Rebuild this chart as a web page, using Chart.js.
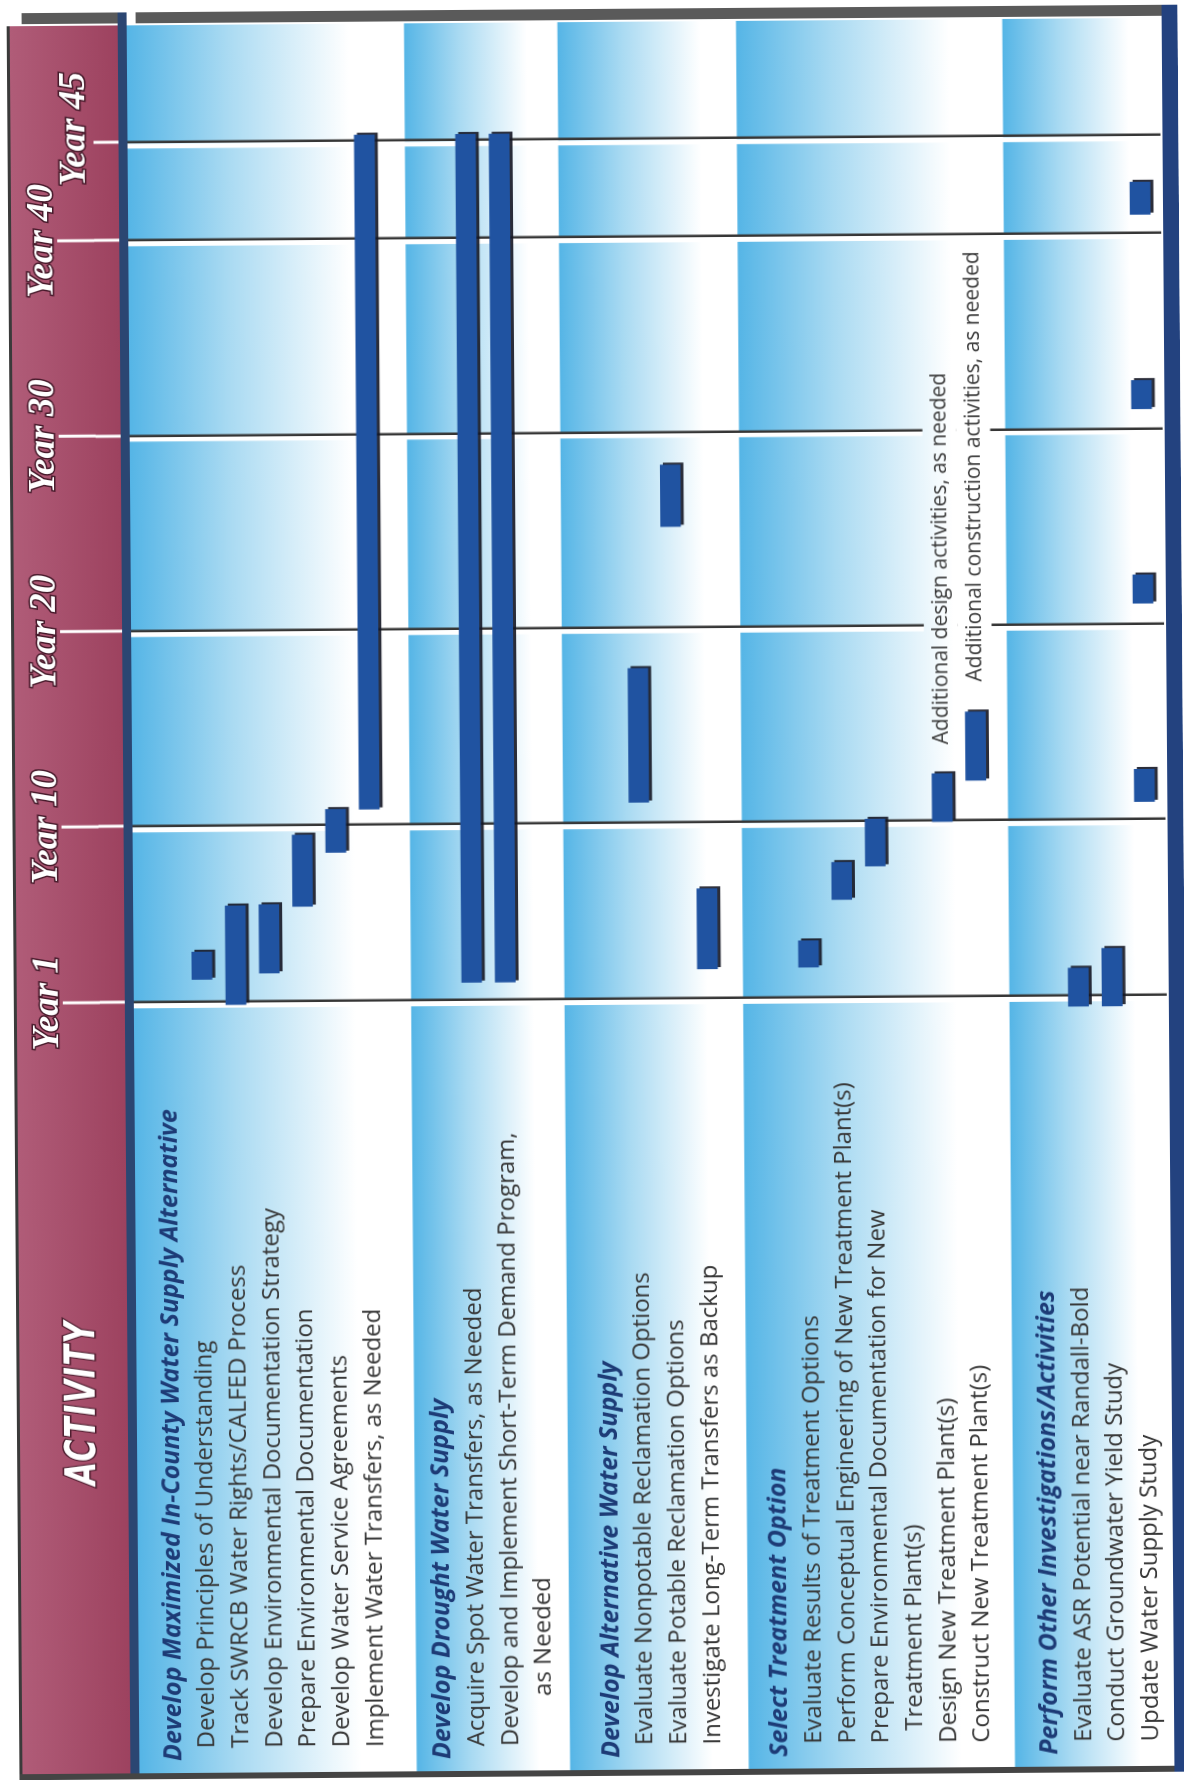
<!DOCTYPE html>
<html>
<head>
<meta charset="utf-8">
<title>Implementation schedule</title>
<script src="https://cdn.jsdelivr.net/npm/chart.js@4.4.1/dist/chart.umd.min.js"></script>
<style>
    html, body { margin: 0; padding: 0; background: #fff; }
    body { width: 1184px; height: 1780px; overflow: hidden; position: relative; }
    /* the chart is laid out on its side and turned upright, like the printed page */
    #schedule-target {
        position: absolute;
        left: -298px;
        top: 298px;
        width: 1780px;
        height: 1184px;
        transform: rotate(-90.42deg);
        transform-origin: 50% 50%;
    }
</style>
</head>
<body>
<canvas id="schedule-target" width="1780" height="1184"></canvas>
<script>
const rowLabels = [
    'Develop Maximized In-County Water Supply Alternative',
    'Develop Principles of Understanding',
    'Track SWRCB Water Rights/CALFED Process',
    'Develop Environmental Documentation Strategy',
    'Prepare Environmental Documentation',
    'Develop Water Service Agreements',
    'Implement Water Transfers, as Needed',
    '',
    'Develop Drought Water Supply',
    'Acquire Spot Water Transfers, as Needed',
    'Develop and Implement Short-Term Demand Program,',
    'as Needed',
    '',
    'Develop Alternative Water Supply',
    'Evaluate Nonpotable Reclamation Options',
    'Evaluate Potable Reclamation Options',
    'Investigate Long-Term Transfers as Backup',
    '',
    'Select Treatment Option',
    'Evaluate Results of Treatment Options',
    'Perform Conceptual Engineering of New Treatment Plant(s)',
    'Prepare Environmental Documentation for New',
    'Treatment Plant(s)',
    'Design New Treatment Plant(s)',
    'Construct New Treatment Plant(s)',
    '',
    'Perform Other Investigations/Activities',
    'Evaluate ASR Potential near Randall-Bold',
    'Conduct Groundwater Yield Study',
    'Update Water Supply Study',
]
const headerRows = [0, 8, 13, 18, 26]
const yearTicks = [1, 10, 20, 30, 40, 45]

// one entry per bar (years)
const barRows  = [1, 2, 3, 4, 5, 6, 9, 10, 14, 15, 16, 19, 20, 21, 23, 24, 27, 28, 29, 29, 29, 29]
const barStart = [2.15, 0.85, 2.45, 5.85, 8.6, 10.8, 1.9, 1.9, 11.05, 25.15, 2.5, 2.55, 6.0, 7.7, 9.95, 12.05, 0.45, 0.45, 10.9, 21.05, 31.0, 40.95]
const barEnd   = [3.55, 5.9, 5.95, 9.5, 10.8, 45.3, 45.3, 45.3, 17.9, 28.3, 6.6, 3.9, 7.9, 10.1, 12.4, 15.55, 2.4, 3.4, 12.55, 22.5, 32.45, 42.6]

const noteRows = [23, 24]
const noteFrom = [13.9, 17.1]
const noteText = ['Additional design activities, as needed', 'Additional construction activities, as needed']

// look
const bandEdges = [7.2, 11.75, 17.05, 24.95]
const wrapIndent = { 11: 50, 22: 13 }
const labelFont = '"Open Sans"'

const measure = document.createElement('canvas').getContext('2d')
measure.font = '24px ' + labelFont
const spaceW = measure.measureText(' ').width
function pad(px) {
    return ' '.repeat(Math.max(0, Math.round(px / spaceW)))
}
function isHead(c) {
    return !!c.tick && headerRows.includes(c.tick.value)
}

function paintBands(ctx, chart) {
    const a = chart.chartArea
    const y = chart.scales.y
    const edges = [a.top].concat(bandEdges.map(e => y.getPixelForValue(e)), [a.bottom])
    for (let i = 0; i < edges.length - 1; i++) {
        const v0 = edges[i], v1 = edges[i + 1]
        const g = ctx.createLinearGradient(0, v0, 0, v0 + (v1 - v0) * 0.8)
        g.addColorStop(0, '#55b5e6')
        g.addColorStop(0.45, '#a9daf2')
        g.addColorStop(1, '#ffffff')
        ctx.fillStyle = g
        ctx.fillRect(10, v0, a.right - 10, v1 - v0)
    }
}

const frame = {
    id: 'frame',
    beforeDraw(chart) {
        const { ctx, chartArea: a, scales: { x } } = chart
        ctx.save()
        ctx.fillStyle = '#fff'
        ctx.fillRect(0, 0, chart.width, chart.height)
        paintBands(ctx, chart)

        // maroon header column
        const mg = ctx.createLinearGradient(0, 16, 0, 124)
        mg.addColorStop(0, '#b05c78')
        mg.addColorStop(1, '#9d425f')
        ctx.fillStyle = mg
        ctx.fillRect(10, 16, a.right - 10, 108)
        ctx.fillStyle = '#3a3a3a'
        ctx.fillRect(10, 13, a.right - 10, 3)

        // grey strip along the top, rule at the bottom, blue frame at the right
        ctx.fillStyle = '#5a5a5a'
        ctx.fillRect(a.right + 2, 28, 11, 96)
        ctx.fillRect(a.right + 2, 142, 11, chart.height - 142)
        ctx.fillStyle = '#444'
        ctx.fillRect(4, 13, 6, chart.height - 13)
        ctx.fillStyle = '#23427f'
        ctx.fillRect(4, a.bottom + 2, a.right + 9, chart.height - a.bottom - 2)

        // light strip under each grid line
        ctx.fillStyle = '#fff'
        x.ticks.forEach(t => {
            const u = x.getPixelForValue(t.value)
            ctx.fillRect(u - 6, a.top, 5, a.bottom - a.top)
        })
        ctx.restore()
    },
    beforeDatasetsDraw(chart) {
        const ctx = chart.ctx
        ctx.save()
        ctx.shadowColor = 'rgba(20, 22, 35, 0.9)'
        ctx.shadowOffsetX = 2
        ctx.shadowOffsetY = 3
        ctx.shadowBlur = 0
    },
    afterDatasetsDraw(chart) {
        chart.ctx.restore()
    },
    afterDraw(chart) {
        const { ctx, chartArea: a, scales: { x, y } } = chart
        ctx.save()
        // navy rule between header column and plot
        ctx.fillStyle = '#2b4672'
        ctx.fillRect(10, 124, a.right + 3, 9)

        // longer tick marks for the lower row of year labels
        ctx.strokeStyle = '#fff'
        ctx.lineWidth = 3
        yearTicks.slice(0, -1).forEach(v => {
            const u = x.getPixelForValue(v)
            ctx.beginPath()
            ctx.moveTo(u, 62)
            ctx.lineTo(u, 99)
            ctx.stroke()
        })

        // notes next to the treatment plant bars
        ctx.font = '21px ' + labelFont
        ctx.textBaseline = 'middle'
        ctx.textAlign = 'left'
        noteText.forEach((txt, i) => {
            const u0 = x.getPixelForValue(noteFrom[i])
            const v0 = y.getPixelForValue(noteRows[i])
            const w = ctx.measureText(txt).width
            ctx.save()
            ctx.beginPath()
            ctx.rect(u0 - 8, v0 - 17, w + 16, 34)
            ctx.clip()
            paintBands(ctx, chart)
            ctx.restore()
            ctx.fillStyle = '#3a3a3a'
            ctx.fillText(txt, u0, v0)
        })

        // column heading, narrowed like the printed condensed face
        ctx.translate(381, 80)
        ctx.scale(0.72, 1)
        ctx.font = 'italic bold 42px "DejaVu Sans"'
        ctx.letterSpacing = '2px'
        ctx.textAlign = 'center'
        ctx.lineWidth = 3
        ctx.strokeStyle = 'rgba(60, 20, 35, 0.85)'
        ctx.strokeText('ACTIVITY', 0, 0)
        ctx.fillStyle = '#fff'
        ctx.fillText('ACTIVITY', 0, 0)
        ctx.restore()
    },
}

Chart.defaults.font.family = 'Open Sans'

const target = document.getElementById('schedule-target')
const schedule = new Chart(target, {
    type: 'bar',
    data: {
        datasets: [{
            data: barRows.map((r, i) => ({ y: r, x: [barStart[i], barEnd[i]] })),
            backgroundColor: '#2053a1',
            barThickness: 20,
            borderSkipped: false,
            clip: false,
        }],
    },
    options: {
        indexAxis: 'y',
        responsive: false,
        devicePixelRatio: 1,
        animation: false,
        events: [],
        layout: { padding: { left: 22, right: 22, top: 0, bottom: 8 } },
        plugins: {
            legend: { display: false },
            tooltip: { enabled: false },
        },
        scales: {
            x: {
                type: 'linear',
                position: 'top',
                min: 1,
                max: 51,
                afterBuildTicks: (s) => { s.ticks = yearTicks.map(v => ({ value: v })) },
                afterFit: (s) => { s.height = 133 },
                border: { display: false },
                grid: {
                    color: '#363636',
                    lineWidth: 2.5,
                    tickColor: '#ffffff',
                    tickWidth: 3,
                    tickLength: 34,
                },
                ticks: {
                    autoSkip: false,
                    maxRotation: 0,
                    padding: 2,
                    color: '#ffffff',
                    textStrokeColor: 'rgba(60, 20, 35, 0.9)',
                    textStrokeWidth: 3,
                    font: { family: '"Liberation Serif", serif', size: 37, style: 'italic', weight: 'bold', lineHeight: 0.89 },
                    callback: (v) => v === 45 ? '   Year ' + v : ['Year ' + v, ''],
                },
            },
            y: {
                type: 'linear',
                reverse: true,
                offset: false,
                min: -1.028,
                max: 29.62,
                afterBuildTicks: (s) => { s.ticks = rowLabels.map((_, i) => ({ value: i })) },
                afterFit: (s) => { s.width = 759 },
                border: { display: false },
                grid: { display: false },
                ticks: {
                    autoSkip: false,
                    crossAlign: 'far',
                    color: (c) => isHead(c) ? '#1d3b76' : '#363636',
                    font: (c) => isHead(c)
                        ? { family: labelFont, size: 25, style: 'italic', weight: 'bold' }
                        : { family: labelFont, size: 24 },
                    callback: (v) => {
                        const txt = rowLabels[v] || ''
                        if (!txt || headerRows.includes(v)) return txt
                        return pad(10 + (wrapIndent[v] || 0)) + txt
                    },
                },
            },
        },
    },
    plugins: [frame],
})
</script>
</body>
</html>
